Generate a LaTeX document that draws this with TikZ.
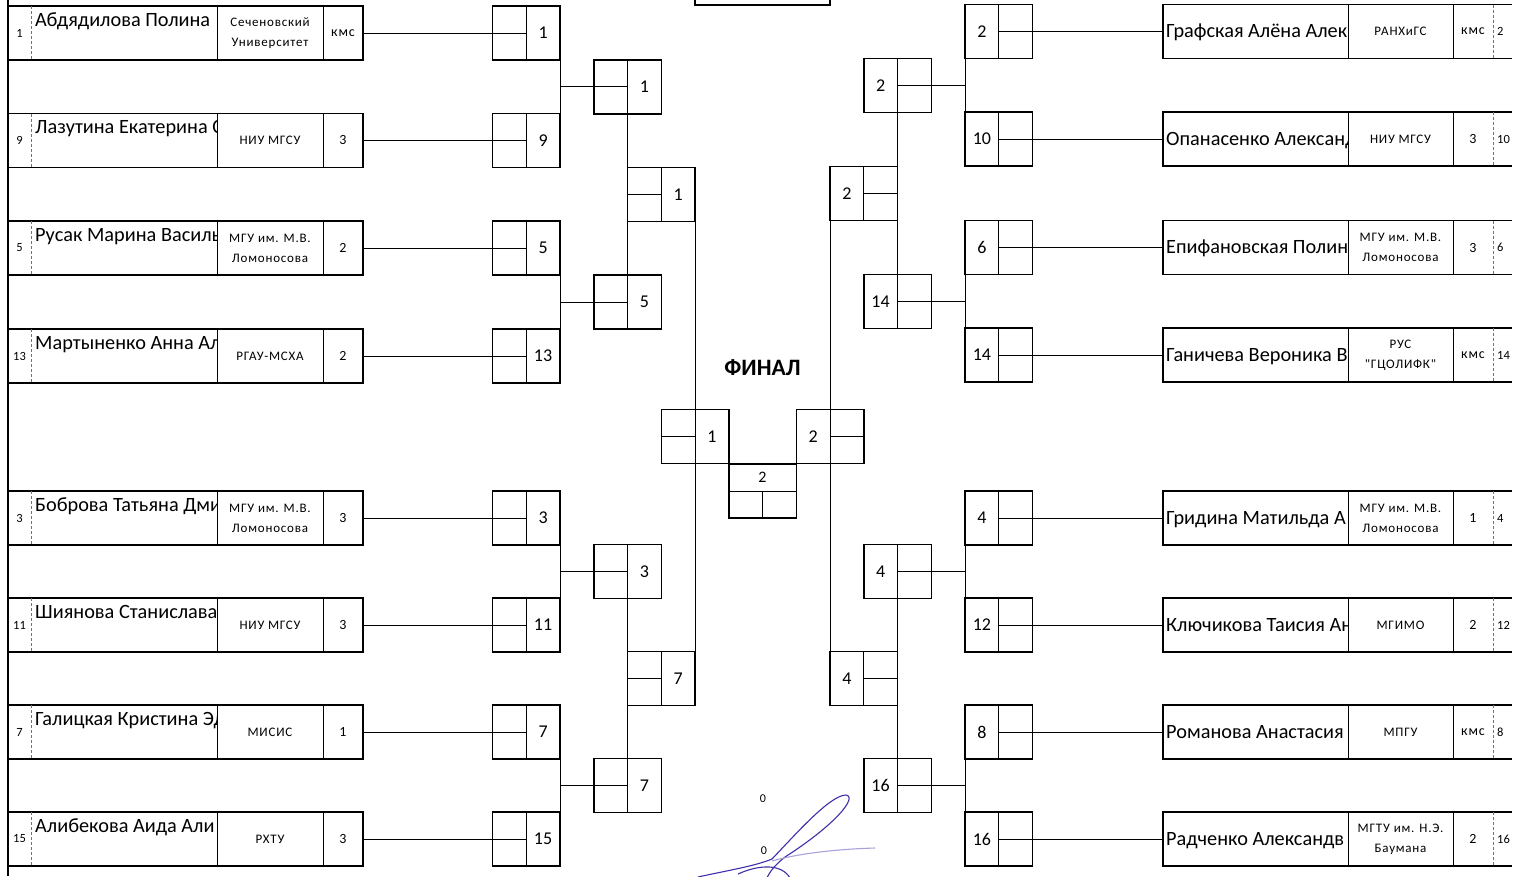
\documentclass[tikz,border=0pt]{standalone}
\usepackage{fontspec}
\setmainfont{Carlito}
\newfontfamily\orgfont[LetterSpace=6]{Carlito}
\usetikzlibrary{calc}
\definecolor{sigblue}{RGB}{62,48,170}
\begin{document}
\begin{tikzpicture}[x=1pt,y=-1pt,
  rowline/.style={draw=black,line width=1.5pt},
  rowbox/.style={draw=black,line width=1.5pt,minimum width=355pt,minimum height=54pt,inner sep=0pt,outer sep=0pt},
  rowboxR/.style={minimum width=349pt,minimum height=54pt,inner sep=0pt,outer sep=0pt},
  cellsep/.style={draw=black,line width=1pt},
  seedsep/.style={draw=black!55,line width=0.8pt,densely dashed},
  sbox/.style={draw=black,line width=1.5pt,minimum width=67.5pt,minimum height=54pt,inner sep=0pt,outer sep=0pt},
  sdiv/.style={draw=black,line width=1pt},
  conn/.style={draw=black,line width=1pt},
  num/.style={font=\fontsize{18}{20}\selectfont,inner sep=0pt},
  nm/.style={font=\fontsize{20.3}{22}\selectfont,inner sep=0pt},
  org/.style={font=\orgfont\fontsize{13}{20}\selectfont,align=center,inner sep=0pt},
  rk/.style={font=\orgfont\fontsize{14}{16}\selectfont,inner sep=0pt},
  sd/.style={font=\fontsize{12.5}{14}\selectfont,inner sep=0pt},
  sig/.style={draw=sigblue,line width=1.1pt},
]
\fill[white] (0,0) rectangle (1518,876);
\useasboundingbox (0,0) rectangle (1518,876);
\clip (0,0) rectangle (1518,876);

% left border and top title box
\draw[rowline] (8,0) -- (8,876);
\draw[rowline] (695,0) -- (695,5) -- (830,5) -- (830,0);

% ---------- left entries ----------
\foreach \s/\c/\nm/\og/\rkk in {
 1/33/{Абдядилова Полина}/{Сеченовский\\Университет}/кмс,
 9/140.5/{Лазутина Екатерина С}/{НИУ МГСУ}/3,
 5/248/{Русак Марина Василь}/{МГУ им. М.В.\\Ломоносова}/2,
 13/356/{Мартыненко Анна Ал}/{РГАУ-МСХА}/2,
 3/518/{Боброва Татьяна Дми}/{МГУ им. М.В.\\Ломоносова}/3,
 11/625/{Шиянова Станислава}/{НИУ МГСУ}/3,
 7/732/{Галицкая Кристина Эд}/{МИСИС}/1,
 15/839/{Алибекова Аида Али}/{РХТУ}/3}{
  \node[rowbox] (eL\s) at (185.5,\c) {};
  \draw[seedsep] (31,\c-27) -- (31,\c+27);
  \draw[cellsep] (217,\c-27) -- (217,\c+27);
  \draw[cellsep] (323,\c-27) -- (323,\c+27);
  \node[sd] (sL\s) at (19.5,\c) {\s};
  \begin{scope}
    \clip (31,\c-27) rectangle (216.5,\c+27);
    \node[nm,anchor=base west] (nL\s) at (35,\c-7) {\nm};
  \end{scope}
  \node[org] (oL\s) at (270,\c) {\og};
  \node[rk] (rL\s) at (343,\c) {\rkk};
  % first round score box
  \node[sbox] (bL\s) at (526.25,\c) {};
  \draw[sdiv] (bL\s.north) -- (bL\s.south);
  \node[num] (bnL\s) at (543.1,\c) {\s};
  \draw[conn] (eL\s.east) -- (bL\s.center);
}

% ---------- right entries ----------
\foreach \s/\c/\nm/\og/\rkk in {
 2/31.5/{Графская Алёна Алек}/{РАНХиГС}/кмс,
 10/139/{Опанасенко Александ}/{НИУ МГСУ}/3,
 6/247.5/{Епифановская Полина}/{МГУ им. М.В.\\Ломоносова}/3,
 14/355/{Ганичева Вероника В}/{РУС\\"ГЦОЛИФК"}/кмс,
 4/518/{Гридина Матильда А}/{МГУ им. М.В.\\Ломоносова}/1,
 12/625/{Ключикова Таисия Ан}/{МГИМО}/2,
 8/732/{Романова Анастасия}/{МПГУ}/кмс,
 16/839/{Радченко Александв}/{МГТУ им. Н.Э.\\Баумана}/2}{
  \node[rowboxR] (eR\s) at (1337.5,\c) {};
  \draw[rowline] (eR\s.north east) -- (eR\s.north west) -- (eR\s.south west) -- (eR\s.south east);
  \draw[cellsep] (1348,\c-27) -- (1348,\c+27);
  \draw[cellsep] (1453,\c-27) -- (1453,\c+27);
  \draw[seedsep] (1493,\c-27) -- (1493,\c+27);
  \begin{scope}
    \clip (1163,\c-27) rectangle (1347.5,\c+27);
    \node[nm,anchor=base west] (nR\s) at (1166,\c+6) {\nm};
  \end{scope}
  \node[org] (oR\s) at (1400.5,\c) {\og};
  \node[rk] (rR\s) at (1473,\c) {\rkk};
  \node[sd,anchor=west] (sR\s) at (1497,\c) {\s};
  % first round score box
  \node[sbox] (bR\s) at (998.75,\c) {};
  \draw[sdiv] (bR\s.north) -- (bR\s.south);
  \node[num] (bnR\s) at (981.9,\c) {\s};
  \draw[conn] (bR\s.center) -- (eR\s.west);
}

% ---------- left round 2 ----------
\foreach \a/\b/\w/\c in {1/9/1/86.75, 5/13/5/302, 3/11/3/571.5, 7/15/7/785.5}{
  \node[sbox] (cL\w) at (627.5,\c) {};
  \draw[sdiv] (cL\w.north) -- (cL\w.south);
  \node[num] (cnL\w) at (644.4,\c) {\w};
  \draw[conn] (bL\a.south east) -- (bL\b.north east);
  \draw[conn] ($(bL\a.south east)!0.5!(bL\b.north east)$) -- (cL\w.center);
}
% ---------- right round 2 ----------
\foreach \a/\b/\w/\c in {2/10/2/85.25, 6/14/14/301.25, 4/12/4/571.5, 8/16/16/785.5}{
  \node[sbox] (cR\w) at (897.5,\c) {};
  \draw[sdiv] (cR\w.north) -- (cR\w.south);
  \node[num] (cnR\w) at (880.6,\c) {\w};
  \draw[conn] (bR\a.south west) -- (bR\b.north west);
  \draw[conn] ($(bR\a.south west)!0.5!(bR\b.north west)$) -- (cR\w.center);
}

% ---------- left round 3 ----------
\foreach \a/\b/\w/\c in {1/5/1/194.4, 3/7/7/678.5}{
  \node[sbox] (dL\w) at (661.25,\c) {};
  \draw[sdiv] (dL\w.north) -- (dL\w.south);
  \node[num] (dnL\w) at (678.1,\c) {\w};
  \draw[conn] (cL\a.south) -- (cL\b.north);
  \draw[conn] (dL\w.west) -- (dL\w.center);
}
% ---------- right round 3 ----------
\foreach \a/\b/\w/\c in {2/14/2/193.25, 4/16/4/678.5}{
  \node[sbox] (dR\w) at (863.75,\c) {};
  \draw[sdiv] (dR\w.north) -- (dR\w.south);
  \node[num] (dnR\w) at (846.9,\c) {\w};
  \draw[conn] (cR\a.south) -- (cR\b.north);
  \draw[conn] (dR\w.center) -- (dR\w.east);
}

% ---------- final ----------
\node[font=\bfseries\fontsize{23.5}{26}\selectfont] (fin) at (762.5,368) {ФИНАЛ};

\node[sbox] (fL) at (695,436.5) {};
\draw[sdiv] (fL.north) -- (fL.south);
\node[num] (fnL) at (711.9,436.5) {1};
\draw[conn] (dL1.south east) -- (dL7.north east);
\draw[conn] (fL.west) -- (fL.center);

\node[sbox] (fR) at (830,436.5) {};
\draw[sdiv] (fR.north) -- (fR.south);
\node[num] (fnR) at (813.1,436.5) {2};
\draw[conn] (dR2.south west) -- (dR4.north west);
\draw[conn] (fR.center) -- (fR.east);

\node[sbox] (fB) at (762.5,491) {};
\draw[sdiv] (fB.west) -- (fB.east);
\draw[sdiv] (fB.center) -- (fB.south);
\node[font=\fontsize{16}{18}\selectfont,inner sep=0pt] (fnB) at (762.5,477.5) {2};

% ---------- scores below / signature ----------
\node[font=\fontsize{12}{14}\selectfont,inner sep=0pt] (z1) at (763,799) {0};
\node[font=\fontsize{12}{14}\selectfont,inner sep=0pt] (z2) at (764,851) {0};
\draw[sig] (698,877) .. controls (730,870) and (755,866) .. (772,859)
  .. controls (795,835) and (830,795) .. (846,795)
  .. controls (858,797) and (835,825) .. (785,857)
  .. controls (776,864) and (770,871) .. (767,878);
\draw[sig,draw=sigblue!45] (772,861) .. controls (800,853) and (840,849) .. (875,848);
\draw[sig] (738,874) .. controls (760,864) and (782,864) .. (790,878);
\end{tikzpicture}
\end{document}
